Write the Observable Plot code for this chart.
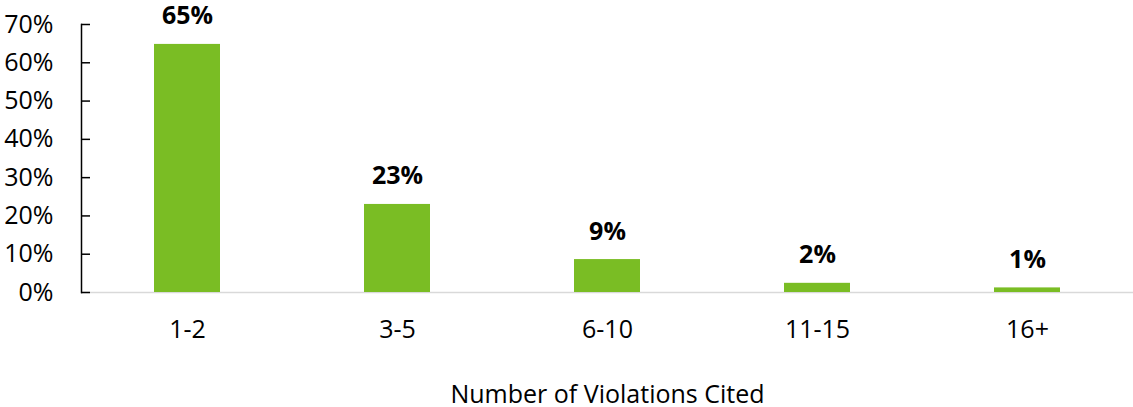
<!DOCTYPE html>
<html><head><meta charset="utf-8">
<script src="https://cdn.jsdelivr.net/npm/d3@7"></script>
<script src="https://cdn.jsdelivr.net/npm/@observablehq/plot@0.6"></script>
<style>html,body{margin:0;padding:0;background:#fff} svg{display:block}</style>
</head><body><div id="chart"></div>
<script>
const categories = ["1-2", "3-5", "6-10", "11-15", "16+"];
const shares = [64.8, 23.0, 8.6, 2.4, 1.2];
const labels = ["65%", "23%", "9%", "2%", "1%"];
const yTicks = [0, 10, 20, 30, 40, 50, 60, 70];
const xTitle = "Number of Violations Cited";

const data = categories.map((c, i) => ({category: c, share: shares[i], label: labels[i]}));
const font = "'Open Sans', sans-serif";

const chart = Plot.plot({
  width: 1133, height: 407,
  marginLeft: 81, marginRight: 0, marginTop: 24, marginBottom: 115,
  style: {fontFamily: font, fontSize: "25px", color: "#000", background: "#fff", overflow: "visible"},
  x: {domain: categories, padding: 0, label: null},
  y: {domain: [0, 70], label: null},
  marks: [
    Plot.ruleY([0], {stroke: "#d9d9d9", strokeWidth: 1.5}),
    Plot.barY(data, {x: "category", y: "share", fill: "#7abd24", insetLeft: 72, insetRight: 72}),
    Plot.text(data, {x: "category", y: "share", text: "label", lineAnchor: "bottom", dy: -20, fontWeight: "bold", fontSize: 25, fill: "#000"}),
    Plot.axisY(yTicks, {tickSize: 0, tickPadding: 28, tickFormat: d => d + "%", fontSize: 25, label: null}),
    Plot.axisY(yTicks, {tickSize: -9, text: null, label: null, stroke: "#000", strokeWidth: 1.5}),
    Plot.frame({anchor: "left", stroke: "#000", strokeWidth: 1.5}),
    Plot.axisX({tickSize: 0, tickPadding: 28, fontSize: 25, label: null}),
    Plot.text([xTitle], {text: d => d, frameAnchor: "bottom", lineAnchor: "bottom", dy: 110, fontSize: 25, fill: "#000"})
  ]
});
document.getElementById("chart").appendChild(chart);
</script>
</body></html>
